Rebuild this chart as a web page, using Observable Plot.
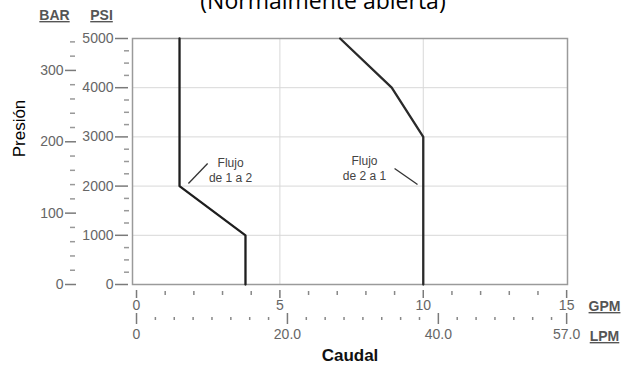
<!DOCTYPE html>
<html>
<head>
<meta charset="utf-8">
<script src="https://cdn.jsdelivr.net/npm/d3@7"></script>
<script src="https://cdn.jsdelivr.net/npm/@observablehq/plot@0.6"></script>
<style>
  html, body { margin: 0; padding: 0; background: #fff; }
  #chart { position: relative; width: 633px; height: 367px; overflow: hidden; }
</style>
</head>
<body>
<div id="chart"></div>
<script>
// ---- data ----
const title = "(Normalmente abierta)";
const yTitle = "Presión";
const xTitle = "Caudal";
const unitHeaders = ["BAR", "PSI", "GPM", "LPM"];

// Flow curves: flow (GPM) vs pressure (PSI)
const curve1Gpm = [1.5, 1.5, 3.8, 3.8];
const curve1Psi = [5000, 2000, 1000, 0];
const curve2Gpm = [7.1, 8.9, 10, 10];
const curve2Psi = [5000, 4000, 3000, 0];

// tick values
const psiMajor = [0, 1000, 2000, 3000, 4000, 5000];
const psiMinor = [250, 500, 750, 1250, 1500, 1750, 2250, 2500, 2750, 3250, 3500, 3750, 4250, 4500, 4750];
const barMajor = [0, 100, 200, 300];
const barMinor = [20, 40, 60, 80, 120, 140, 160, 180, 220, 240, 260, 280, 320, 340];
const gpmMajor = [0, 5, 10, 15];
const gpmMinor = [1, 2, 3, 4, 6, 7, 8, 9, 11, 12, 13, 14];
const lpmMajor = [0, 20, 40, 57];
const lpmMajorLabels = ["0", "20.0", "40.0", "57.0"];
const lpmMinor = [2.5, 5, 7.5, 10, 12.5, 15, 17.5, 22.5, 25, 27.5, 30, 32.5, 35, 37.5, 42.5, 45, 47.5, 50, 52.5, 55];
const gridGpm = [5, 10];
const gridPsi = [1000, 2000, 3000, 4000];

// annotations
const notes = [
  {gpm: 3.28, psi: 2330, text: "Flujo\nde 1 a 2"},
  {gpm: 7.95, psi: 2368, text: "Flujo\nde 2 a 1"}
];
const leaders = [
  {x1: 1.81, y1: 2053, x2: 2.48, y2: 2460},
  {x1: 9.0, y1: 2358, x2: 9.8, y2: 2033}
];

// conversions used by the chart
const PSI_PER_BAR = 14.5038;
const LPM_PER_GPM = 3.8;

const line1 = curve1Gpm.map((g, i) => ({gpm: g, psi: curve1Psi[i]}));
const line2 = curve2Gpm.map((g, i) => ({gpm: g, psi: curve2Psi[i]}));

const tickColor = "#7a7a7a";
const labelColor = "#666";
const blank = () => "";

const chart = Plot.plot({
  width: 633,
  height: 367,
  marginLeft: 132,
  marginRight: 66,
  marginTop: 38,
  marginBottom: 83,
  style: {fontFamily: "Liberation Sans, Arial, sans-serif", fontSize: "14px", background: "#fff", overflow: "visible"},
  x: {domain: [-0.14, 15.03]},
  y: {domain: [0, 5000]},
  marks: [
    Plot.gridX(gridGpm, {stroke: "#d8d8d8", strokeOpacity: 1, strokeWidth: 1}),
    Plot.gridY(gridPsi, {stroke: "#d8d8d8", strokeOpacity: 1, strokeWidth: 1}),
    Plot.frame({stroke: "#9a9a9a", strokeWidth: 1.5}),

    // PSI axis
    Plot.axisY(psiMajor, {anchor: "left", tickSize: 13, tickPadding: 2, dx: -4, stroke: tickColor, strokeWidth: 1.5, fill: labelColor, fontSize: 14, tickFormat: d => String(d), label: null}),
    Plot.axisY(psiMinor, {anchor: "left", tickSize: 5, tickPadding: 0, dx: -3, stroke: "#999", strokeWidth: 1.5, tickFormat: blank, label: null}),
    // BAR axis
    Plot.axisY(barMajor.map(b => b * PSI_PER_BAR), {anchor: "left", tickSize: 11, tickPadding: 2, dx: -56, stroke: tickColor, strokeWidth: 1.5, fill: labelColor, fontSize: 14, tickFormat: d => String(Math.round(d / PSI_PER_BAR)), label: null}),
    Plot.axisY(barMinor.map(b => b * PSI_PER_BAR), {anchor: "left", tickSize: 5, tickPadding: 0, dx: -57, stroke: "#999", strokeWidth: 1.5, tickFormat: blank, label: null}),

    // GPM axis
    Plot.axisX(gpmMajor, {anchor: "bottom", tickSize: 8, tickPadding: 2, dy: 6, stroke: tickColor, strokeWidth: 1.5, fill: labelColor, fontSize: 14, tickFormat: d => String(d), label: null}),
    Plot.axisX(gpmMinor, {anchor: "bottom", tickSize: 4, tickPadding: 0, dy: 7, stroke: "#888", strokeWidth: 1.5, tickFormat: blank, label: null}),
    // LPM axis
    Plot.axisX(lpmMajor.map(l => l / LPM_PER_GPM), {anchor: "bottom", tickSize: 11, tickPadding: 5, dy: 29, stroke: tickColor, strokeWidth: 1.5, fill: labelColor, fontSize: 14, tickFormat: (d, i) => lpmMajorLabels[i], label: null}),
    Plot.axisX(lpmMinor.map(l => l / LPM_PER_GPM), {anchor: "bottom", tickSize: 3, tickPadding: 0, dy: 33, stroke: "#888", strokeWidth: 1.5, tickFormat: blank, label: null}),

    // curves
    Plot.line(line1, {x: "gpm", y: "psi", stroke: "#1e1e1e", strokeWidth: 2.3}),
    Plot.line(line2, {x: "gpm", y: "psi", stroke: "#2a2a2a", strokeWidth: 2.3}),

    // annotations
    Plot.link(leaders, {x1: "x1", y1: "y1", x2: "x2", y2: "y2", stroke: "#333", strokeWidth: 1.3}),
    Plot.text(notes, {x: "gpm", y: "psi", text: "text", fill: "#444", fontSize: 12, lineHeight: 1.2}),

    // unit headers
    Plot.text([unitHeaders[0]], {frameAnchor: "top-left", dx: -78, dy: -23, textAnchor: "middle", lineAnchor: "middle", fill: "#555", fontWeight: "bold", fontSize: 14}),
    Plot.text([unitHeaders[1]], {frameAnchor: "top-left", dx: -31, dy: -23, textAnchor: "middle", lineAnchor: "middle", fill: "#555", fontWeight: "bold", fontSize: 14}),
    Plot.text([unitHeaders[2]], {frameAnchor: "bottom-right", dx: 37, dy: 22, textAnchor: "middle", lineAnchor: "middle", fill: "#555", fontWeight: "bold", fontSize: 14}),
    Plot.text([unitHeaders[3]], {frameAnchor: "bottom-right", dx: 37, dy: 52, textAnchor: "middle", lineAnchor: "middle", fill: "#555", fontWeight: "bold", fontSize: 14}),

    // titles
    Plot.text([xTitle], {frameAnchor: "bottom", dy: 71, textAnchor: "middle", lineAnchor: "middle", fill: "#111", fontWeight: "bold", fontSize: 17}),
    Plot.text([yTitle], {frameAnchor: "left", dx: -113, dy: -33, textAnchor: "middle", lineAnchor: "middle", rotate: -90, fill: "#000", fontSize: 17}),
    Plot.text([title], {frameAnchor: "top", dx: -27, dy: -30, textAnchor: "middle", lineAnchor: "bottom", fill: "#000", fontSize: 23, fontFamily: "Open Sans, sans-serif"})
  ]
});

d3.select(chart).selectAll("text")
  .filter(function() { return unitHeaders.includes(this.textContent); })
  .style("text-decoration", "underline");

document.getElementById("chart").appendChild(chart);
</script>
</body>
</html>
